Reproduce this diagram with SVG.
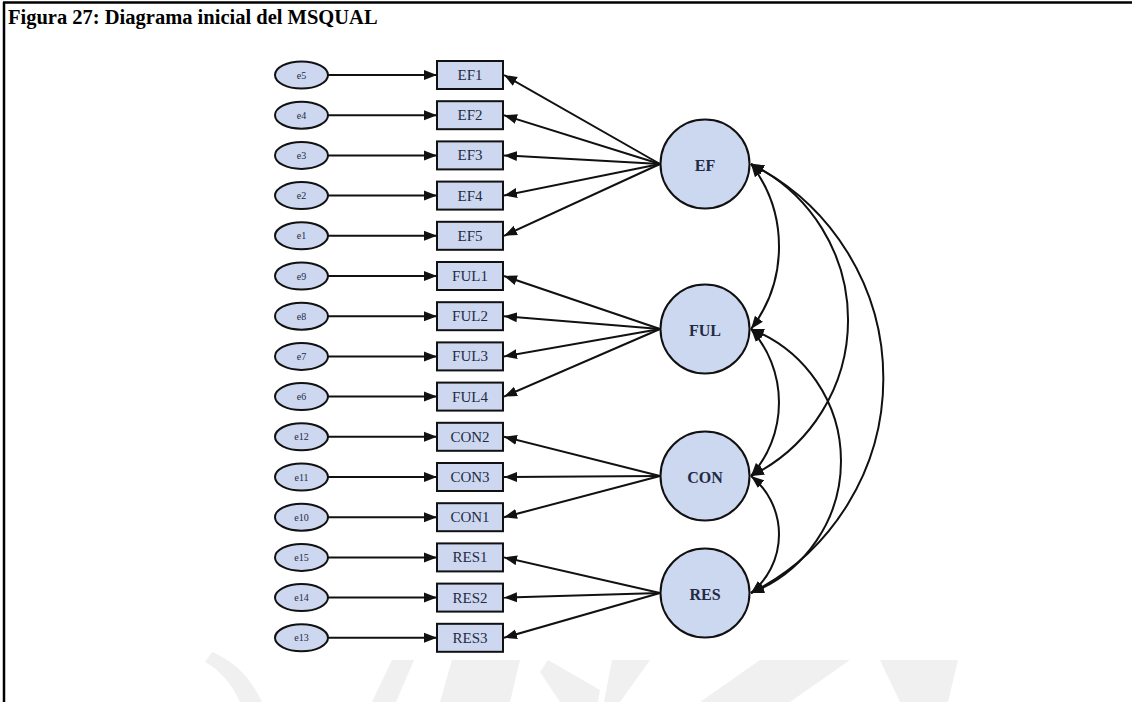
<svg xmlns="http://www.w3.org/2000/svg" width="1132" height="702" viewBox="0 0 1132 702">
  <style>
    .title { font-family: "Liberation Serif", "Times New Roman", serif; font-weight: bold; font-size: 20.5px; fill: #000; }
    .err ellipse { fill: #cdd8f0; stroke: #111; stroke-width: 2; }
    .err text { font-family: "Liberation Serif", serif; font-size: 10px; fill: #1f2a44; text-anchor: middle; dominant-baseline: central; }
    .obs rect { fill: #cdd8f0; stroke: #111; stroke-width: 2; }
    .obs text { font-family: "Liberation Serif", serif; font-size: 15px; fill: #1f2a44; text-anchor: middle; dominant-baseline: central; }
    .lat circle { fill: #ccd7f0; stroke: #111; stroke-width: 2; }
    .lat text { font-family: "Liberation Serif", serif; font-weight: bold; font-size: 16px; fill: #1f2a44; text-anchor: middle; dominant-baseline: central; }
    .edge { stroke: #111; stroke-width: 2; fill: none; }
    .path { marker-end: url(#head); }
    .cov { marker-start: url(#head2); marker-end: url(#head2); }
    .mark { fill: #f0f0f0; }
  </style>
  <defs>
    <marker id="head" markerUnits="userSpaceOnUse" markerWidth="14" markerHeight="11" refX="13" refY="5.5" orient="auto">
      <path d="M0,0.5 L13,5.5 L0,10.5 z" fill="#111"/>
    </marker>
    <marker id="head2" markerUnits="userSpaceOnUse" markerWidth="14" markerHeight="11" refX="13" refY="5.5" orient="auto-start-reverse">
      <path d="M0,0.5 L13,5.5 L0,10.5 z" fill="#111"/>
    </marker>
  </defs>

  <rect width="1132" height="702" fill="#fff"/>

  <!-- faint shield pattern behind the lower edge -->
  <g class="mark">
    <path d="M212,652 C232,660 250,676 262,702 L240,702 C232,684 220,670 205,662 z"/>
    <path d="M392,660 L414,660 L396,702 L372,702 z"/>
    <path d="M452,660 L520,660 L510,702 L440,702 z"/>
    <path d="M548,660 L600,690 L598,702 L560,702 L540,672 z"/>
    <path d="M612,660 L650,660 L620,702 L604,702 z"/>
    <path d="M760,660 L850,660 L790,702 L700,702 z"/>
    <path d="M880,660 L958,660 L948,702 L900,702 z"/>
  </g>

  <!-- frame: top and left rules -->
  <line x1="3" y1="2.5" x2="1132" y2="2.5" stroke="#000" stroke-width="2.5"/>
  <line x1="4" y1="2" x2="4" y2="702" stroke="#000" stroke-width="2.5"/>

  <text class="title" x="8" y="24">Figura 27: Diagrama inicial del MSQUAL</text>

  <!-- connectors -->
  <g id="connectors" class="edge">
    <!-- error terms to indicators -->
    <g class="path">
      <line x1="328" y1="75" x2="437" y2="75"/>
      <line x1="328" y1="115.2" x2="437" y2="115.2"/>
      <line x1="328" y1="155.4" x2="437" y2="155.4"/>
      <line x1="328" y1="195.6" x2="437" y2="195.6"/>
      <line x1="328" y1="235.8" x2="437" y2="235.8"/>
      <line x1="328" y1="276" x2="437" y2="276"/>
      <line x1="328" y1="316.2" x2="437" y2="316.2"/>
      <line x1="328" y1="356.4" x2="437" y2="356.4"/>
      <line x1="328" y1="396.6" x2="437" y2="396.6"/>
      <line x1="328" y1="436.8" x2="437" y2="436.8"/>
      <line x1="328" y1="477" x2="437" y2="477"/>
      <line x1="328" y1="517.2" x2="437" y2="517.2"/>
      <line x1="328" y1="557.4" x2="437" y2="557.4"/>
      <line x1="328" y1="597.6" x2="437" y2="597.6"/>
      <line x1="328" y1="637.8" x2="437" y2="637.8"/>
      <!-- factor loadings -->
      <line x1="660" y1="164" x2="504" y2="75"/>
      <line x1="660" y1="164" x2="504" y2="115.2"/>
      <line x1="660" y1="164" x2="504" y2="155.4"/>
      <line x1="660" y1="164" x2="504" y2="195.6"/>
      <line x1="660" y1="164" x2="504" y2="235.8"/>
      <line x1="660" y1="329" x2="504" y2="276"/>
      <line x1="660" y1="329" x2="504" y2="316.2"/>
      <line x1="660" y1="329" x2="504" y2="356.4"/>
      <line x1="660" y1="329" x2="504" y2="396.6"/>
      <line x1="660" y1="476" x2="504" y2="436.8"/>
      <line x1="660" y1="476" x2="504" y2="477"/>
      <line x1="660" y1="476" x2="504" y2="517.2"/>
      <line x1="660" y1="593" x2="504" y2="557.4"/>
      <line x1="660" y1="593" x2="504" y2="597.6"/>
      <line x1="660" y1="593" x2="504" y2="637.8"/>
    </g>
    <!-- covariances between factors -->
    <g class="cov">
      <path d="M751,164 A135.5,135.5 0 0 1 751,329"/>
      <path d="M751,164 A173.9,173.9 0 0 1 751,476"/>
      <path d="M751,164 A240,240 0 0 1 751,593"/>
      <path d="M751,329 A110.5,110.5 0 0 1 751,476"/>
      <path d="M751,329 A141.8,141.8 0 0 1 751,593"/>
      <path d="M751,476 A75.1,75.1 0 0 1 751,593"/>
    </g>
  </g>

  <!-- error terms -->
  <g class="err">
    <g id="e5"><ellipse cx="301.5" cy="75" rx="26.5" ry="13.5"/><text x="301.5" y="75">e5</text></g>
    <g id="e4"><ellipse cx="301.5" cy="115.2" rx="26.5" ry="13.5"/><text x="301.5" y="115.2">e4</text></g>
    <g id="e3"><ellipse cx="301.5" cy="155.4" rx="26.5" ry="13.5"/><text x="301.5" y="155.4">e3</text></g>
    <g id="e2"><ellipse cx="301.5" cy="195.6" rx="26.5" ry="13.5"/><text x="301.5" y="195.6">e2</text></g>
    <g id="e1"><ellipse cx="301.5" cy="235.8" rx="26.5" ry="13.5"/><text x="301.5" y="235.8">e1</text></g>
    <g id="e9"><ellipse cx="301.5" cy="276" rx="26.5" ry="13.5"/><text x="301.5" y="276">e9</text></g>
    <g id="e8"><ellipse cx="301.5" cy="316.2" rx="26.5" ry="13.5"/><text x="301.5" y="316.2">e8</text></g>
    <g id="e7"><ellipse cx="301.5" cy="356.4" rx="26.5" ry="13.5"/><text x="301.5" y="356.4">e7</text></g>
    <g id="e6"><ellipse cx="301.5" cy="396.6" rx="26.5" ry="13.5"/><text x="301.5" y="396.6">e6</text></g>
    <g id="e12"><ellipse cx="301.5" cy="436.8" rx="26.5" ry="13.5"/><text x="301.5" y="436.8">e12</text></g>
    <g id="e11"><ellipse cx="301.5" cy="477" rx="26.5" ry="13.5"/><text x="301.5" y="477">e11</text></g>
    <g id="e10"><ellipse cx="301.5" cy="517.2" rx="26.5" ry="13.5"/><text x="301.5" y="517.2">e10</text></g>
    <g id="e15"><ellipse cx="301.5" cy="557.4" rx="26.5" ry="13.5"/><text x="301.5" y="557.4">e15</text></g>
    <g id="e14"><ellipse cx="301.5" cy="597.6" rx="26.5" ry="13.5"/><text x="301.5" y="597.6">e14</text></g>
    <g id="e13"><ellipse cx="301.5" cy="637.8" rx="26.5" ry="13.5"/><text x="301.5" y="637.8">e13</text></g>
  </g>

  <!-- observed indicators -->
  <g class="obs">
    <g id="EF1"><rect x="437" y="61" width="66" height="28"/><text x="470" y="75">EF1</text></g>
    <g id="EF2"><rect x="437" y="101.2" width="66" height="28"/><text x="470" y="115.2">EF2</text></g>
    <g id="EF3"><rect x="437" y="141.4" width="66" height="28"/><text x="470" y="155.4">EF3</text></g>
    <g id="EF4"><rect x="437" y="181.6" width="66" height="28"/><text x="470" y="195.6">EF4</text></g>
    <g id="EF5"><rect x="437" y="221.8" width="66" height="28"/><text x="470" y="235.8">EF5</text></g>
    <g id="FUL1"><rect x="437" y="262" width="66" height="28"/><text x="470" y="276">FUL1</text></g>
    <g id="FUL2"><rect x="437" y="302.2" width="66" height="28"/><text x="470" y="316.2">FUL2</text></g>
    <g id="FUL3"><rect x="437" y="342.4" width="66" height="28"/><text x="470" y="356.4">FUL3</text></g>
    <g id="FUL4"><rect x="437" y="382.6" width="66" height="28"/><text x="470" y="396.6">FUL4</text></g>
    <g id="CON2"><rect x="437" y="422.8" width="66" height="28"/><text x="470" y="436.8">CON2</text></g>
    <g id="CON3"><rect x="437" y="463" width="66" height="28"/><text x="470" y="477">CON3</text></g>
    <g id="CON1"><rect x="437" y="503.2" width="66" height="28"/><text x="470" y="517.2">CON1</text></g>
    <g id="RES1"><rect x="437" y="543.4" width="66" height="28"/><text x="470" y="557.4">RES1</text></g>
    <g id="RES2"><rect x="437" y="583.6" width="66" height="28"/><text x="470" y="597.6">RES2</text></g>
    <g id="RES3"><rect x="437" y="623.8" width="66" height="28"/><text x="470" y="637.8">RES3</text></g>
  </g>

  <!-- latent factors -->
  <g class="lat">
    <g id="EF"><circle cx="705" cy="164" r="44.5"/><text x="705" y="165">EF</text></g>
    <g id="FUL"><circle cx="705" cy="329" r="44.5"/><text x="705" y="330">FUL</text></g>
    <g id="CON"><circle cx="705" cy="476" r="44.5"/><text x="705" y="477">CON</text></g>
    <g id="RES"><circle cx="705" cy="593" r="44.5"/><text x="705" y="594">RES</text></g>
  </g>
</svg>
